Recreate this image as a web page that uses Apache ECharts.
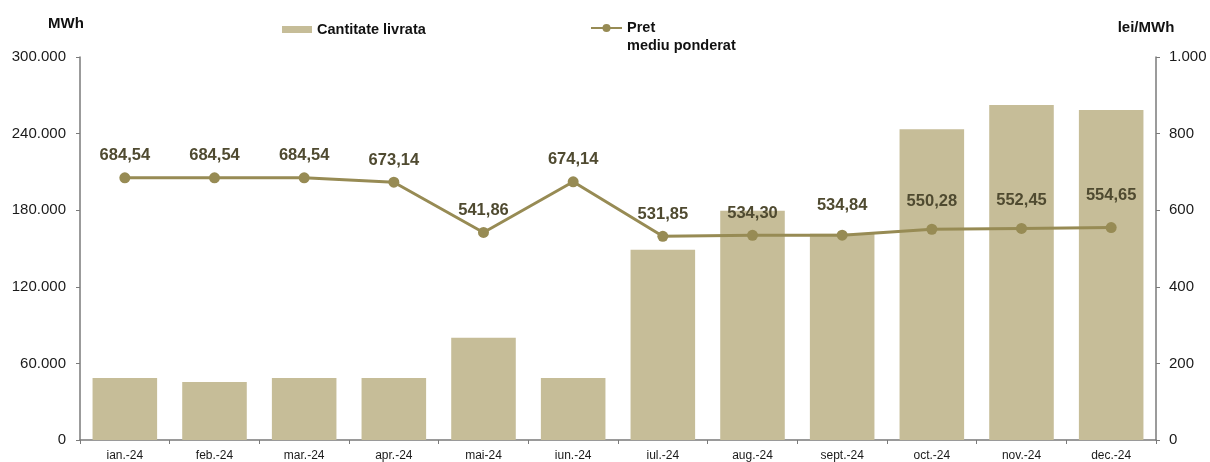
<!DOCTYPE html>
<html>
<head>
<meta charset="utf-8">
<script src="https://cdn.jsdelivr.net/npm/echarts@6/dist/echarts.min.js"></script>
<style>
  html, body { margin: 0; padding: 0; background: #fff; }
  #chart { width: 1210px; height: 462px; }
</style>
</head>
<body>
<div id="chart"></div>
<script>
// categorii (luni)
const months = ['ian.-24', 'feb.-24', 'mar.-24', 'apr.-24', 'mai-24', 'iun.-24',
  'iul.-24', 'aug.-24', 'sept.-24', 'oct.-24', 'nov.-24', 'dec.-24']

// cantitate livrata (MWh)
const cantitate = [48500, 45500, 48500, 48600, 80000, 48500,
  149000, 179500, 161500, 243500, 262500, 258500]

// pret mediu ponderat (lei/MWh)
const pret = [684.54, 684.54, 684.54, 673.14, 541.86, 674.14,
  531.85, 534.30, 534.84, 550.28, 552.45, 554.65]

// ticks
const leftTicks = [0, 60000, 120000, 180000, 240000, 300000]
const rightTicks = [0, 200, 400, 600, 800, 1000]

// ridicare suplimentara a etichetelor (px), ca in original
const labelLift = [0, 0, 0, 0, 0, 0, 0, 0, 8, 6, 6, 10]

const FONT = '"Liberation Sans", Arial, sans-serif'
const BAR_COLOR = '#C6BD98'
const LINE_COLOR = '#978B54'
const LABEL_COLOR = '#4F4A30'
const AXIS_COLOR = '#7a7a7a'

const thousands = v => String(v).replace(/\B(?=(\d{3})+(?!\d))/g, '.')

const chart = echarts.init(document.getElementById('chart'), null, { renderer: 'canvas' })

const option = {
  animation: false,
  backgroundColor: '#fff',
  textStyle: { fontFamily: FONT },
  grid: { left: 80, right: 54, top: 57, bottom: 22, containLabel: false },
  legend: [
    {
      data: [{ name: 'Cantitate livrata', icon: 'rect' }],
      left: 282, top: 22, padding: 0,
      itemWidth: 30, itemHeight: 7, itemGap: 4,
      textStyle: { fontFamily: FONT, fontSize: 14.5, fontWeight: 'bold', color: '#111' }
    },
    {
      data: ['Pret\nmediu ponderat'],
      left: 590, top: 1, padding: 0,
      itemWidth: 31, itemHeight: 10, itemGap: 2,
      formatter: name => ' \n' + name,
      textStyle: {
        fontFamily: FONT, fontSize: 14.5, fontWeight: 'bold', color: '#111',
        lineHeight: 18
      }
    }
  ],
  xAxis: {
    type: 'category',
    data: months,
    axisLine: { lineStyle: { color: AXIS_COLOR, width: 1.5 } },
    axisTick: { show: true, alignWithLabel: false, length: 4, lineStyle: { color: AXIS_COLOR } },
    axisLabel: { fontFamily: FONT, fontSize: 12, color: '#1a1a1a', margin: 10 }
  },
  yAxis: [
    {
      type: 'value',
      name: 'MWh',
      nameLocation: 'end',
      nameGap: 26,
      nameTextStyle: { fontFamily: FONT, fontSize: 15, fontWeight: 'bold', color: '#111', align: 'center', padding: [0, 0, 0, -28] },
      min: leftTicks[0],
      max: leftTicks[leftTicks.length - 1],
      interval: leftTicks[1] - leftTicks[0],
      axisLine: { show: true, lineStyle: { color: AXIS_COLOR, width: 1.5 } },
      axisTick: { show: true, length: 4, lineStyle: { color: AXIS_COLOR } },
      axisLabel: { fontFamily: FONT, fontSize: 15, color: '#1a1a1a', margin: 14, formatter: v => thousands(v) },
      splitLine: { show: false }
    },
    {
      type: 'value',
      name: 'lei/MWh',
      nameLocation: 'end',
      nameGap: 22,
      nameTextStyle: { fontFamily: FONT, fontSize: 15, fontWeight: 'bold', color: '#111', align: 'center', padding: [0, 20, 0, 0] },
      min: rightTicks[0],
      max: rightTicks[rightTicks.length - 1],
      interval: rightTicks[1] - rightTicks[0],
      position: 'right',
      axisLine: { show: true, lineStyle: { color: AXIS_COLOR, width: 1.5 } },
      axisTick: { show: true, length: 4, lineStyle: { color: AXIS_COLOR } },
      axisLabel: { fontFamily: FONT, fontSize: 15, color: '#1a1a1a', margin: 13, formatter: v => thousands(v) },
      splitLine: { show: false }
    }
  ],
  series: [
    {
      name: 'Cantitate livrata',
      type: 'bar',
      yAxisIndex: 0,
      data: cantitate,
      barCategoryGap: '28%',
      itemStyle: { color: BAR_COLOR }
    },
    {
      name: 'Pret\nmediu ponderat',
      type: 'line',
      yAxisIndex: 1,
      data: pret.map((v, i) => ({ value: v, label: { distance: 8 + labelLift[i] } })),
      symbol: 'circle',
      symbolSize: 11,
      lineStyle: { color: LINE_COLOR, width: 3 },
      itemStyle: { color: LINE_COLOR },
      label: {
        show: true,
        position: 'top',
        distance: 8,
        fontFamily: FONT,
        fontSize: 16.5,
        fontWeight: 'bold',
        color: LABEL_COLOR,
        formatter: p => p.value.toFixed(2).replace('.', ',')
      }
    }
  ]
}

chart.setOption(option)
</script>
</body>
</html>
